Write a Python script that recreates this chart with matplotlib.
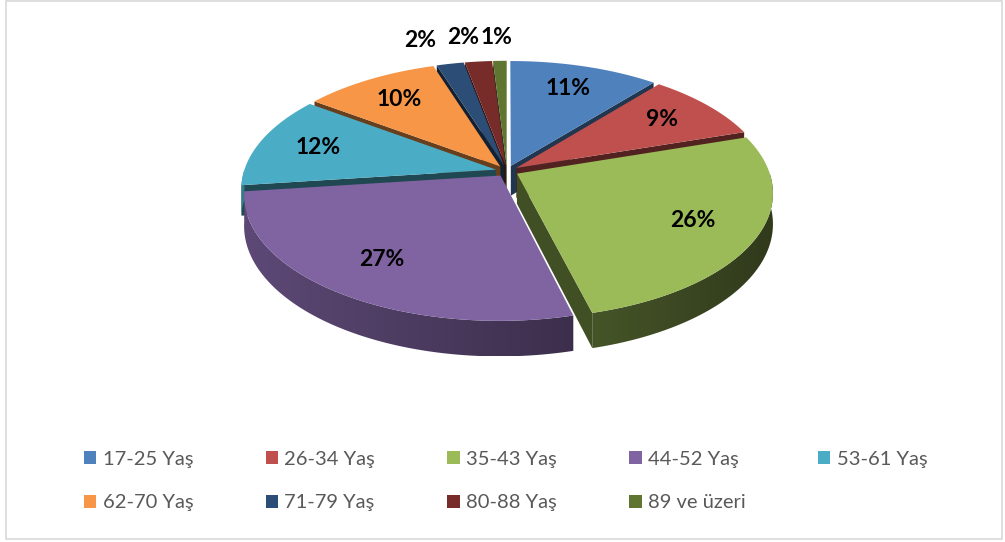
import numpy as np
import matplotlib
matplotlib.use("Agg")
import matplotlib.pyplot as plt
from matplotlib.patches import Polygon, Patch, Rectangle
from matplotlib.colors import to_rgb

categories = ["17-25 Yaş", "26-34 Yaş", "35-43 Yaş", "44-52 Yaş", "53-61 Yaş",
              "62-70 Yaş", "71-79 Yaş", "80-88 Yaş", "89 ve üzeri"]
values = [11, 9, 26, 27, 12, 10, 2, 2, 1]
colors = ["#4F81BD", "#C0504D", "#9BBB59", "#8064A2", "#4BACC6",
          "#F79646", "#2C4D75", "#772C2A", "#5F7530"]

plt.rcParams['font.family'] = ['Lato', 'DejaVu Sans']

W, H = 1005, 542
fig = plt.figure(figsize=(W / 100, H / 100), dpi=100)
ax = fig.add_axes([0, 0, 1, 1])
ax.set_xlim(0, W)
ax.set_ylim(H, 0)
ax.axis('off')

# 3D-pie projection parameters (pixels)
CX, CY, RX, RY, DEPTH, PERSP, EXPLODE = 507, 171, 252, 122, 30, 0.15, 0.045


def proj(x, y, z):
    x = np.asarray(x, float)
    y = np.asarray(y, float)
    f = 1.0 / (1.0 + PERSP * y)
    return CX + RX * x * f, CY - RY * y * f + DEPTH * z * f


def shade(c, k):
    r, g, b = to_rgb(c)
    k = max(0.0, min(1.0, k))
    return (r * k, g * k, b * k)


vals = np.array(values, float)
frac = vals / vals.sum()
cum = np.concatenate([[0], np.cumsum(frac)])

slices = []
for i in range(len(vals)):
    a_start = 90 - 360 * cum[i]
    a_end = 90 - 360 * cum[i + 1]
    t1, t2 = a_end, a_start
    mid = 0.5 * (t1 + t2)
    ox = EXPLODE * np.cos(np.radians(mid))
    oy = EXPLODE * np.sin(np.radians(mid))
    slices.append((i, t1, t2, mid, ox, oy))

order = sorted(slices, key=lambda s: -np.sin(np.radians(s[3])))

for (i, t1, t2, mid, ox, oy) in order:
    col = colors[i]
    # radial walls
    for t, sign in ((t1, -1), (t2, 1)):
        nrm = t + sign * 90
        if np.sin(np.radians(nrm)) < 0:
            cx_, cy_ = ox, oy
            rx_, ry_ = ox + np.cos(np.radians(t)), oy + np.sin(np.radians(t))
            px, py = proj([cx_, rx_], [cy_, ry_], 0)
            qx, qy = proj([cx_, rx_], [cy_, ry_], 1)
            pts = [(px[0], py[0]), (px[1], py[1]), (qx[1], qy[1]), (qx[0], qy[0])]
            ax.add_patch(Polygon(pts, closed=True, facecolor=shade(col, 0.42),
                                 edgecolor='none', zorder=2))
    # outer wall on the front half, with a horizontal shading gradient
    segs = []
    for lo, hi in ((-180.0, 0.0), (180.0, 360.0)):
        a, b = max(t1, lo), min(t2, hi)
        if a < b:
            segs.append((a, b))
    for a, b in segs:
        ts = np.radians(np.linspace(a, b, max(4, int((b - a) * 3))))
        xs = ox + np.cos(ts)
        ys = oy + np.sin(ts)
        px, py = proj(xs, ys, 0)
        qx, qy = proj(xs, ys, 1)
        poly = np.column_stack([np.concatenate([px, qx[::-1]]),
                                np.concatenate([py, qy[::-1]])])
        wall = Polygon(poly, closed=True, facecolor='none', edgecolor='none', zorder=2)
        ax.add_patch(wall)
        x0, x1 = poly[:, 0].min(), poly[:, 0].max()
        y0, y1 = poly[:, 1].min(), poly[:, 1].max()
        gx = np.linspace(x0, x1, 200)
        cos_t = np.clip((gx - CX) / RX, -1, 1)
        k = np.clip(0.52 - 0.2 * cos_t, 0, 1)
        base = np.array(to_rgb(col))
        img = (k[None, :, None] * base[None, None, :]).repeat(2, axis=0)
        im = ax.imshow(img, extent=(x0, x1, y1, y0), aspect='auto',
                       interpolation='bilinear', zorder=2)
        im.set_clip_path(wall)
    # top surface
    ts = np.radians(np.linspace(t1, t2, max(4, int((t2 - t1) * 2))))
    xs = np.concatenate([[ox], ox + np.cos(ts)])
    ys = np.concatenate([[oy], oy + np.sin(ts)])
    px, py = proj(xs, ys, 0)
    ax.add_patch(Polygon(np.column_stack([px, py]), closed=True, facecolor=col,
                         edgecolor='none', zorder=3))

ax.set_xlim(0, W)
ax.set_ylim(H, 0)

# labels: inside for larger slices, above the pie for the small ones
for (i, t1, t2, mid, ox, oy) in slices:
    if values[i] >= 5:
        rx_l, ry_l = 0.75, 0.75
    else:
        rx_l, ry_l = 1.6, 1.27
    m = np.radians(mid)
    lx, ly = proj(ox + rx_l * np.cos(m), oy + ry_l * np.sin(m), 0)
    ax.text(float(lx), float(ly), f"{values[i]}%", ha='center', va='center',
            fontsize=16.5, fontweight='bold', color='black', zorder=5)

# border
ax.add_patch(Rectangle((6, 1), 996, 538, fill=False, edgecolor='#d9d9d9', lw=1.2, zorder=1))

# legend, filled row by row
ncol = 5
nrow = int(np.ceil(len(categories) / ncol))
idx = [r * ncol + c for c in range(ncol) for r in range(nrow) if r * ncol + c < len(categories)]
handles = [Patch(facecolor=colors[j], edgecolor='none') for j in idx]
labels = [categories[j] for j in idx]
fig.legend(handles, labels, ncol=ncol, loc='upper left',
           bbox_to_anchor=(84 / W, 1 - 451 / H), frameon=False, fontsize=14.5,
           labelcolor='#595959', handlelength=0.62, handleheight=0.62,
           handletextpad=0.3, columnspacing=3.6, labelspacing=1.3,
           borderpad=0, borderaxespad=0)

fig.savefig("out.png", dpi=100, facecolor='white')
